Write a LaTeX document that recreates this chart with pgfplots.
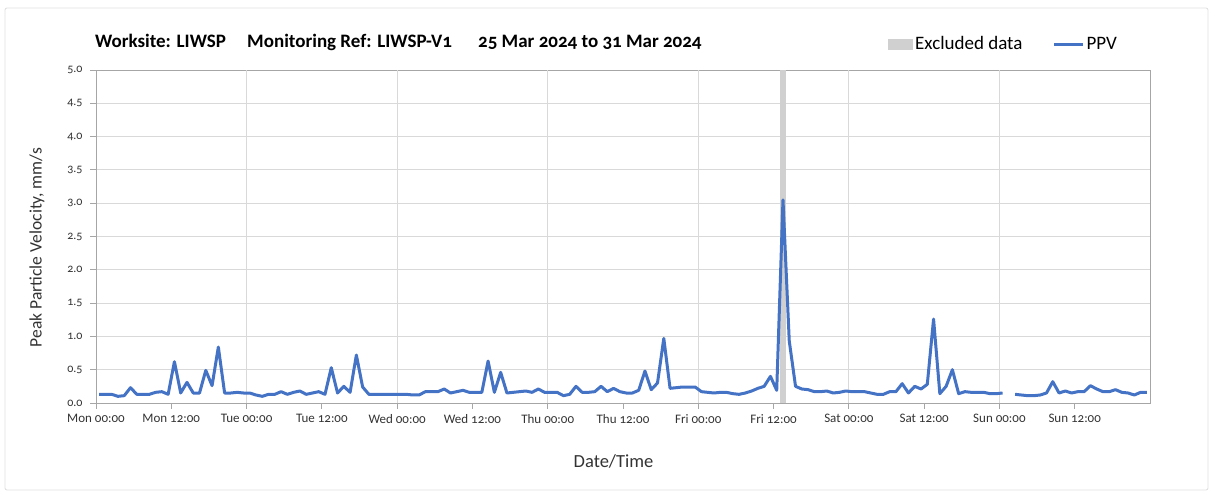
\documentclass[border=0pt]{standalone}
\usepackage{fontspec}
\setmainfont{Carlito}[Numbers=OldStyle]
\usepackage{pgfplots}
\pgfplotsset{compat=1.18}
\usepackage{pgfplotstable}

\definecolor{ppv}{HTML}{4472C4}
\definecolor{excl}{HTML}{D0D0D0}
\definecolor{gridc}{HTML}{D9D9D9}
\definecolor{axc}{HTML}{A6A6A6}
\definecolor{txt}{HTML}{333333}
\definecolor{frame}{HTML}{E0E0E0}

\pgfplotstableread{
x y
0.5 0.13
1.5 0.13
2.5 0.13
3.5 0.10
4.5 0.11
5.5 0.23
6.5 0.13
7.5 0.13
8.5 0.13
9.5 0.16
10.5 0.17
11.5 0.13
12.5 0.62
13.5 0.15
14.5 0.31
15.5 0.15
16.5 0.15
17.5 0.49
18.5 0.26
19.5 0.84
20.5 0.15
21.5 0.15
22.5 0.16
23.5 0.15
24.5 0.15
25.5 0.12
26.5 0.10
27.5 0.13
28.5 0.13
29.5 0.17
30.5 0.13
31.5 0.16
32.5 0.18
33.5 0.13
34.5 0.15
35.5 0.17
36.5 0.13
37.5 0.53
38.5 0.15
39.5 0.25
40.5 0.16
41.5 0.72
42.5 0.24
43.5 0.13
44.5 0.13
45.5 0.13
46.5 0.13
47.5 0.13
48.5 0.13
49.5 0.13
50.5 0.12
51.5 0.12
52.5 0.17
53.5 0.17
54.5 0.17
55.5 0.21
56.5 0.15
57.5 0.17
58.5 0.19
59.5 0.16
60.5 0.16
61.5 0.16
62.5 0.63
63.5 0.16
64.5 0.46
65.5 0.15
66.5 0.16
67.5 0.17
68.5 0.18
69.5 0.16
70.5 0.21
71.5 0.16
72.5 0.16
73.5 0.16
74.5 0.11
75.5 0.13
76.5 0.25
77.5 0.16
78.5 0.16
79.5 0.17
80.5 0.25
81.5 0.17
82.5 0.22
83.5 0.17
84.5 0.15
85.5 0.15
86.5 0.19
87.5 0.48
88.5 0.20
89.5 0.30
90.5 0.97
91.5 0.22
92.5 0.23
93.5 0.24
94.5 0.24
95.5 0.24
96.5 0.17
97.5 0.16
98.5 0.15
99.5 0.16
100.5 0.16
101.5 0.14
102.5 0.13
103.5 0.15
104.5 0.18
105.5 0.22
106.5 0.25
107.5 0.40
108.5 0.19
109.5 3.05
110.5 0.93
111.5 0.25
112.5 0.21
113.5 0.20
114.5 0.17
115.5 0.17
116.5 0.18
117.5 0.15
118.5 0.16
119.5 0.18
120.5 0.17
121.5 0.17
122.5 0.17
123.5 0.15
124.5 0.13
125.5 0.13
126.5 0.17
127.5 0.17
128.5 0.29
129.5 0.15
130.5 0.25
131.5 0.21
132.5 0.28
133.5 1.26
134.5 0.14
135.5 0.25
136.5 0.50
137.5 0.14
138.5 0.17
139.5 0.16
140.5 0.16
141.5 0.16
142.5 0.14
143.5 0.14
144.5 0.15
145.5 nan
146.5 0.13
147.5 0.12
148.5 0.11
149.5 0.11
150.5 0.12
151.5 0.15
152.5 0.32
153.5 0.15
154.5 0.18
155.5 0.15
156.5 0.17
157.5 0.17
158.5 0.26
159.5 0.21
160.5 0.17
161.5 0.17
162.5 0.20
163.5 0.16
164.5 0.15
165.5 0.12
166.5 0.16
167.5 0.16
}\ppvdata

\begin{document}
\begin{tikzpicture}
\begin{axis}[
  scale only axis,
  width=1054pt, height=333pt,
  xmin=0, xmax=168, ymin=0, ymax=5,
  clip=false,
  unbounded coords=jump,
  xtick={0,12,...,156},
  xticklabels={Mon 00:00, Mon 12:00, Tue 00:00, Tue 12:00, Wed 00:00, Wed 12:00, Thu 00:00, Thu 12:00, Fri 00:00, Fri 12:00, Sat 00:00, Sat 12:00, Sun 00:00, Sun 12:00},
  extra x ticks={24,48,72,96,120,144},
  extra x tick labels={},
  extra x tick style={grid=major, major tick length=0pt},
  ytick={0,0.5,1,1.5,2,2.5,3,3.5,4,4.5,5},
  ymajorgrids,
  grid style={gridc, line width=0.9pt},
  axis line style={axc, line width=0.9pt},
  tick style={axc, line width=0.9pt},
  tick align=outside,
  major tick length=6pt,
  xtick pos=lower, ytick pos=left,
  xticklabel style={font=\fontsize{13}{15}\selectfont, text=txt, yshift=-2pt},
  yticklabel style={font=\fontsize{12}{14}\selectfont, text=txt, xshift=-4pt,
     /pgf/number format/.cd, fixed, fixed zerofill, precision=1, assume math mode=true},
  xlabel={Date/Time},
  ylabel={Peak Particle Velocity, mm/s},
  xlabel style={font=\fontsize{18.5}{22}\selectfont, text=txt, at={(axis description cs:0.491,-0.177)}, anchor=center},
  ylabel style={font=\fontsize{17.5}{21}\selectfont, text=txt, at={(axis description cs:-0.056,0.467)}, anchor=center},
  legend columns=2,
  legend style={at={(axis description cs:0.7514,1.078)}, anchor=west, draw=none, fill=none,
     font=\fontsize{19}{22}\selectfont, inner xsep=0pt, inner ysep=0pt,
     /tikz/every even column/.append style={column sep=28pt}},
]
% outer frame and bounding box
\path (rel axis cs:-0.09108,1.21021) rectangle (rel axis cs:1.06452,-0.27027);
\draw[frame, line width=0.9pt, rounded corners=2pt] (rel axis cs:-0.08634,1.18619) rectangle (rel axis cs:1.05503,-0.26126);

\addplot[fill=excl, draw=none,
  legend image code/.code={\fill[excl] (0pt,-5.5pt) rectangle (25pt,5.5pt);}]
  coordinates {(109.05,0) (109.05,5) (109.95,5) (109.95,0)} -- cycle;
\addlegendentry{Excluded data}

\addplot[ppv, line width=3pt, line join=round, mark=none,
  legend image code/.code={\draw[ppv, line width=3pt] (0pt,0pt) -- (29pt,0pt);}]
  table[x=x, y=y] {\ppvdata};
\addlegendentry{PPV}

% title
\node[anchor=base west, font=\bfseries\fontsize{19}{22}\selectfont, inner sep=0pt] at (rel axis cs:-0.001,1.068) {Worksite: LIWSP};
\node[anchor=base west, font=\bfseries\fontsize{19}{22}\selectfont, inner sep=0pt] at (rel axis cs:0.1433,1.068) {Monitoring Ref: LIWSP-V1};
\node[anchor=base west, font=\bfseries\fontsize{19}{22}\selectfont, inner sep=0pt] at (rel axis cs:0.3624,1.068) {25 Mar 2024 to 31 Mar 2024};
\end{axis}
\end{tikzpicture}
\end{document}
